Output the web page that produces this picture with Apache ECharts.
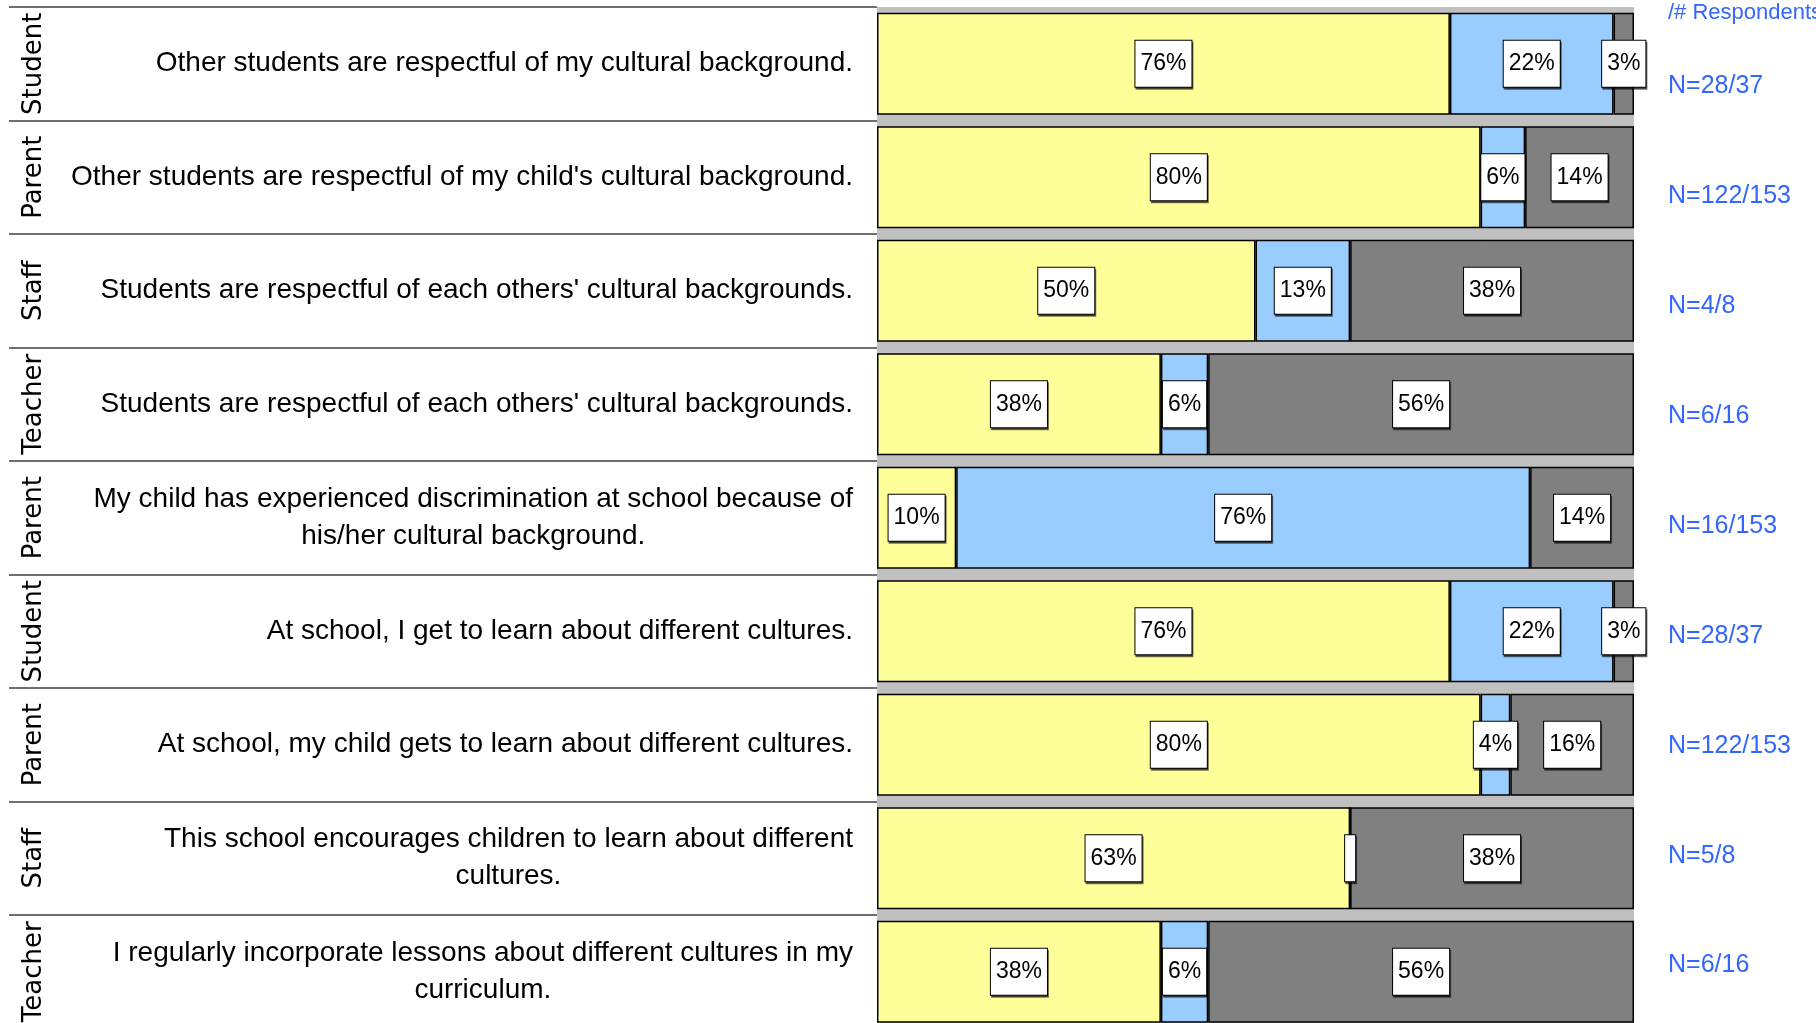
<!DOCTYPE html>
<html><head><meta charset="utf-8">
<script src="https://cdn.jsdelivr.net/npm/echarts@6/dist/echarts.min.js"></script>
<style>html,body{margin:0;padding:0;background:#fff;overflow:hidden}#c{width:1816px;height:1040px}</style>
</head><body><div id="c"></div>
<script>
const groups = ['Student', 'Parent', 'Staff', 'Teacher', 'Parent', 'Student', 'Parent', 'Staff', 'Teacher'];
const questions = [
  'Other students are respectful of my cultural background.',
  "Other students are respectful of my child's cultural background.",
  "Students are respectful of each others' cultural backgrounds.",
  "Students are respectful of each others' cultural backgrounds.",
  'My child has experienced discrimination at school because of\nhis/her cultural background.',
  'At school, I get to learn about different cultures.',
  'At school, my child gets to learn about different cultures.',
  'This school encourages children to learn about different\ncultures.',
  'I regularly incorporate lessons about different cultures in my\ncurriculum.'
];
const yellowVals = [75.68, 79.74, 50, 37.5, 10.46, 75.68, 79.74, 62.5, 37.5];
const blueVals   = [21.62, 5.88, 12.5, 6.25, 75.82, 21.62, 3.92, 0, 6.25];
const greyVals   = [2.70, 14.38, 37.5, 56.25, 13.72, 2.70, 16.34, 37.5, 56.25];
const nLabels = ['N=28/37', 'N=122/153', 'N=4/8', 'N=6/16', 'N=16/153', 'N=28/37', 'N=122/153', 'N=5/8', 'N=6/16'];
const respondentsTitle = '/# Respondents';

const chart = echarts.init(document.getElementById('c'), null, {renderer: 'canvas'});

const labelStyle = {
  show: true,
  position: 'inside',
  fontFamily: 'Liberation Sans, Arial, sans-serif',
  fontSize: 23,
  lineHeight: 23,
  color: '#000',
  backgroundColor: '#fff',
  borderColor: '#000',
  borderWidth: 1,
  padding: [12, 5, 11, 5],
  shadowColor: 'rgba(0,0,0,0.55)',
  shadowOffsetX: 1,
  shadowOffsetY: 2,
  shadowBlur: 0,
  formatter: p => p.value === 0 ? '\u200b' : Math.round(p.value) + '%'
};

function seg(name, data, color) {
  return {
    name, type: 'bar', stack: 'all', data,
    xAxisIndex: 0, yAxisIndex: 0,
    barCategoryGap: '10%',
    itemStyle: {color, borderColor: '#000', borderWidth: 1.5},
    label: labelStyle,
    emphasis: {disabled: true},
    silent: true
  };
}

chart.setOption({
  animation: false,
  backgroundColor: '#fff',
  title: {
    text: respondentsTitle, left: 1668, top: 2, padding: 0,
    textStyle: {fontFamily: 'Liberation Sans, Arial, sans-serif', fontSize: 22, fontWeight: 'normal', color: '#3366ff'}
  },
  grid: [
    {left: 877, right: 182, top: 7, height: 1021.5, show: true, backgroundColor: '#c0c0c0', borderWidth: 0, containLabel: false},
    {left: 1600, width: 60, top: 31.5, height: 989, show: false, containLabel: false}
  ],
  xAxis: [
    {type: 'value', gridIndex: 0, min: 0, max: 100, show: false},
    {type: 'value', gridIndex: 1, min: 0, max: 1, show: false}
  ],
  yAxis: [
    {
      type: 'category', gridIndex: 0, data: questions, inverse: true, position: 'left',
      axisLine: {show: false},
      axisTick: {show: true, length: 868, lineStyle: {color: '#404040', width: 1.5}},
      axisLabel: {
        margin: 24, align: 'right', interval: 0,
        formatter: v => '{q|' + v + '}',
        rich: {q: {align: 'center', fontFamily: 'Liberation Sans, Arial, sans-serif', fontSize: 28, lineHeight: 37, color: '#000'}}
      },
      splitLine: {show: false}
    },
    {
      type: 'category', gridIndex: 0, data: groups, inverse: true, position: 'left',
      axisLine: {show: false}, axisTick: {show: false}, splitLine: {show: false},
      axisLabel: {rotate: 90, interval: 0, margin: 830, fontFamily: 'DejaVu Sans, sans-serif', fontSize: 26, color: '#000'}
    },
    {
      type: 'category', gridIndex: 1, data: nLabels, inverse: true, position: 'right',
      axisLine: {show: false}, axisTick: {show: false}, splitLine: {show: false},
      axisLabel: {margin: 8, align: 'left', interval: 0, fontFamily: 'Liberation Sans, Arial, sans-serif', fontSize: 25, color: '#3366ff'}
    }
  ],
  series: [
    seg('Agree', yellowVals, '#ffff99'),
    seg('Disagree', blueVals, '#99ccff'),
    seg('Unsure', greyVals, '#808080')
  ]
});
</script>
</body></html>
